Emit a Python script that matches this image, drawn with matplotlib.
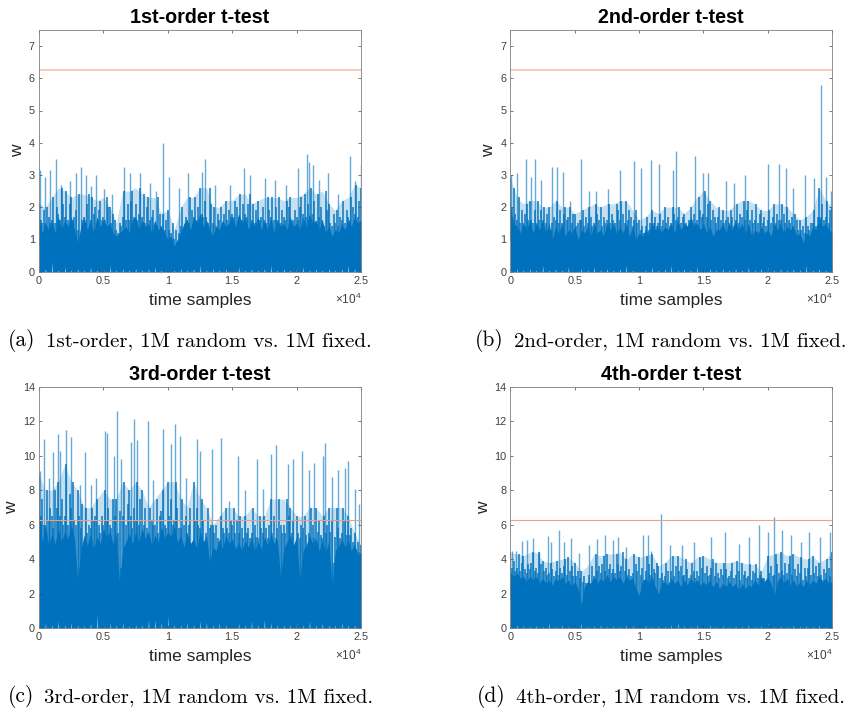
#!/usr/bin/env python3
"""
Four t-test traces, 1M random vs. 1M fixed
"""
import matplotlib
matplotlib.use('Agg')
import matplotlib.pyplot as plt
import numpy as np

threshold = 6.25
titles = ['1st-order t-test', '2nd-order t-test', '3rd-order t-test', '4th-order t-test']
letters = ['(a)', '(b)', '(c)', '(d)']
captions = ['1st-order, 1M random vs. 1M fixed.', '2nd-order, 1M random vs. 1M fixed.',
            '3rd-order, 1M random vs. 1M fixed.', '4th-order, 1M random vs. 1M fixed.']
x_tick_labels = ['0', '0.5', '1', '1.5', '2', '2.5']
y_tops = [7.5, 7.5, 14, 14]
y_ticks = [range(8), range(8), range(0, 15, 2), range(0, 15, 2)]

# tall spikes, position in units of 1e4 samples
spike_x_a = [.005, .05, .083, .13, .168, .238, .285, .324, .363, .407, .446, .503, .57, .66, .705, .788, .865, .907, .964, 1.01, 1.085, 1.158, 1.262, 1.285, 1.365, 1.482, 1.593, 1.637, 1.754, 1.834, 1.917, 2.013, 2.083, 2.098, 2.13, 2.174, 2.246, 2.324, 2.415, 2.456, 2.497]
spike_w_a = [3.15, 2.95, 3.15, 3.5, 2.7, 2.8, 3.05, 3.25, 3.0, 2.65, 3.0, 2.55, 2.4, 3.25, 3.05, 3.05, 2.75, 2.5, 4.0, 2.95, 2.6, 3.05, 3.1, 3.5, 2.7, 2.7, 3.2, 3.0, 2.9, 2.85, 2.7, 3.2, 3.65, 3.4, 3.3, 2.85, 3.05, 2.4, 3.6, 2.8, 3.3]
spike_x_b = [.005, .054, .122, .163, .192, .241, .321, .358, .412, .459, .549, .614, .663, .757, .855, .964, 1.016, 1.096, 1.158, 1.262, 1.287, 1.438, 1.495, 1.534, 1.676, 1.741, 1.826, 2.005, 2.09, 2.145, 2.194, 2.288, 2.363, 2.417, 2.453, 2.495]
spike_w_b = [3.0, 3.05, 3.5, 2.95, 3.5, 2.85, 3.25, 3.25, 3.1, 2.2, 3.5, 2.5, 2.5, 2.55, 3.15, 3.42, 3.2, 3.45, 3.35, 3.15, 3.75, 3.6, 3.05, 3.05, 2.8, 2.75, 3.0, 3.35, 3.35, 3.2, 2.6, 3.0, 2.9, 5.8, 2.95, 2.5]
spike_x_c = [.005, .039, .075, .109, .145, .163, .212, .249, .316, .358, .407, .446, .51, .531, .583, .604, .635, .712, .738, .762, .85, .886, .959, 1.028, 1.057, 1.093, 1.14, 1.225, 1.251, 1.342, 1.415, 1.472, 1.544, 1.598, 1.694, 1.736, 1.803, 1.837, 1.933, 1.974, 2.044, 2.093, 2.135, 2.202, 2.223, 2.272, 2.324, 2.373, 2.399, 2.453, 2.487]
spike_w_c = [9.1, 11.0, 8.7, 10.2, 11.25, 10.3, 11.5, 11.1, 8.3, 10.25, 8.3, 8.7, 11.45, 11.3, 10.0, 12.6, 9.8, 10.8, 12.15, 10.9, 12.05, 8.6, 11.55, 10.7, 11.85, 11.15, 8.7, 11.0, 10.3, 10.4, 11.05, 7.4, 10.0, 8.0, 9.8, 8.1, 10.1, 10.65, 9.5, 9.8, 10.3, 9.2, 9.6, 10.0, 10.75, 8.8, 9.2, 9.3, 9.7, 8.1, 7.2]
spike_x_d = [.008, .044, .09, .13, .174, .225, .29, .316, .381, .417, .472, .536, .614, .671, .738, .795, .839, .899, 1.029, 1.067, 1.093, 1.174, 1.244, 1.334, 1.425, 1.562, 1.668, 1.775, 1.852, 1.935, 2.003, 2.052, 2.114, 2.181, 2.259, 2.324, 2.41, 2.484]
spike_w_d = [4.5, 4.5, 5.05, 5.1, 5.2, 4.4, 5.35, 5.0, 5.7, 5.0, 5.2, 4.35, 4.8, 5.15, 5.4, 5.1, 5.3, 4.7, 5.4, 5.4, 4.5, 6.6, 4.8, 4.85, 5.0, 5.3, 5.55, 4.9, 5.3, 6.0, 5.6, 6.45, 5.7, 5.4, 5.0, 5.55, 5.3, 5.6]

# upper edge of the trace, one value per 500 samples
upper_a = [2.1, 2.0, 2.3, 2.6, 2.5, 2.3, 2.4, 2.4, 2.3, 2.2, 2.3, 2.0, 1.5, 2.5, 2.5, 2.6, 2.4, 2.3, 2.3, 1.8, 1.9, 1.3, 2.0, 2.3, 2.3, 2.6, 2.6, 2.0, 2.0, 2.2, 2.2, 2.4, 2.4, 2.1, 2.2, 2.3, 2.3, 2.3, 2.2, 2.3, 2.3, 2.4, 2.6, 2.4, 2.5, 2.1, 1.9, 2.2, 2.3, 2.7, 2.6]
upper_b = [2.9, 2.3, 2.1, 2.2, 2.2, 2.0, 2.0, 2.2, 2.0, 2.0, 1.8, 1.9, 2.0, 2.1, 2.0, 2.1, 2.1, 2.2, 2.2, 1.9, 1.6, 1.7, 1.9, 1.8, 2.0, 2.0, 2.0, 1.8, 2.0, 2.3, 2.5, 2.2, 2.0, 1.9, 1.9, 2.1, 2.2, 2.2, 2.1, 1.9, 1.9, 2.1, 2.1, 2.0, 1.8, 1.6, 1.7, 1.9, 2.6, 2.2, 2.0]
upper_c = [8.9, 8.0, 8.0, 8.5, 9.5, 8.5, 8.0, 7.0, 7.0, 7.5, 8.0, 7.5, 7.5, 8.5, 8.0, 8.5, 8.0, 7.0, 7.5, 8.0, 8.5, 8.5, 7.5, 7.0, 8.5, 7.5, 7.0, 6.0, 6.5, 7.0, 7.0, 6.5, 6.5, 7.0, 6.5, 6.5, 7.5, 7.5, 7.5, 7.0, 6.5, 6.5, 7.0, 7.0, 6.5, 7.0, 7.0, 7.0, 6.5, 5.5, 4.8]
upper_d = [4.4, 4.3, 4.2, 4.4, 4.4, 3.9, 3.8, 3.9, 4.0, 4.1, 3.8, 3.3, 3.6, 4.3, 4.2, 4.3, 4.3, 4.4, 4.0, 4.3, 4.1, 4.2, 4.3, 3.6, 3.8, 4.2, 4.2, 4.0, 3.8, 4.1, 4.2, 4.0, 3.8, 3.8, 3.8, 3.9, 3.8, 3.7, 3.7, 3.3, 4.2, 4.3, 4.4, 4.2, 4.3, 4.1, 4.0, 4.2, 3.8, 4.0, 4.4]

# busy middle of the trace, one value per 125 samples
mid_a = [2.1, 1.6, 1.5, 1.9, 1.5, 2.0, 1.7, 1.5, 1.6, 2.3, 1.5, 2.0, 1.8, 1.6, 2.6, 2.1, 1.7, 2.5, 1.6, 2.1, 2.3, 1.6, 1.7, 1.9, 1.3, 2.4, 1.1, 1.6, 1.7, 1.5, 2.1, 2.4, 1.6, 2.3, 1.8, 2.0, 1.5, 1.9, 2.2, 1.6,
         1.7, 1.6, 2.3, 2.0, 2.0, 1.5, 1.8, 1.6, 1.3, 1.2, 1.5, 1.4, 1.7, 2.5, 1.6, 2.1, 1.6, 2.2, 2.5, 1.7, 2.1, 1.6, 1.8, 2.6, 1.7, 2.4, 1.5, 2.0, 2.3, 1.6, 1.7, 1.9, 1.5, 1.4, 2.3, 1.8, 1.4, 1.8, 1.3, 1.6,
         1.9, 1.3, 1.2, 1.5, 1.0, 1.3, 0.9, 1.2, 1.4, 2.0, 1.3, 1.7, 1.6, 1.5, 2.3, 1.9, 1.7, 2.3, 1.6, 2.0, 2.6, 1.8, 1.7, 2.2, 1.7, 1.5, 2.6, 2.1, 1.5, 2.0, 1.4, 1.8, 1.6, 2.0, 1.5, 1.8, 2.2, 1.6, 1.9, 1.7,
         1.8, 1.7, 2.2, 2.0, 1.7, 2.4, 1.6, 2.1, 1.8, 1.7, 2.1, 2.4, 1.6, 2.1, 1.5, 1.9, 2.2, 1.6, 1.7, 2.0, 1.6, 1.5, 2.3, 1.9, 1.7, 2.3, 1.6, 2.0, 1.6, 2.3, 1.5, 1.9, 1.7, 1.6, 2.2, 2.0, 2.3, 1.5, 1.6, 1.9,
         1.7, 1.6, 2.0, 2.3, 1.8, 2.4, 1.7, 2.1, 1.6, 2.6, 1.8, 2.2, 1.5, 2.4, 1.7, 2.0, 1.6, 1.4, 2.5, 1.9, 2.1, 1.5, 1.4, 1.8, 1.5, 1.9, 1.4, 1.7, 1.6, 2.2, 1.5, 1.9, 1.7, 1.6, 2.3, 2.0, 1.8, 2.7, 1.7, 2.2, 2.6]
mid_b = [2.9, 2.0, 2.6, 1.8, 1.6, 2.3, 1.5, 1.9, 1.5, 1.8, 2.1, 1.6, 2.2, 1.6, 1.5, 1.9, 1.5, 2.2, 1.6, 1.9, 1.6, 2.0, 1.5, 1.8, 2.0, 1.3, 1.5, 1.7, 1.6, 2.2, 1.5, 1.9, 1.5, 1.8, 2.0, 1.6, 1.7, 2.0, 1.5, 1.8,
         1.8, 1.4, 1.5, 1.6, 1.6, 1.9, 1.4, 1.7, 1.5, 2.0, 1.7, 1.4, 1.5, 2.1, 1.8, 1.6, 2.0, 1.4, 1.7, 1.5, 1.6, 2.1, 1.5, 1.8, 1.6, 1.5, 2.1, 1.9, 1.6, 2.2, 1.8, 1.5, 2.2, 1.6, 1.9, 1.7, 1.4, 1.6, 1.9, 1.5,
         1.6, 1.3, 1.4, 1.2, 1.4, 1.7, 1.3, 1.5, 1.9, 1.5, 1.7, 1.4, 1.5, 1.8, 1.4, 1.6, 2.0, 1.5, 1.7, 1.4, 1.5, 2.0, 1.8, 1.6, 1.7, 2.0, 1.5, 1.7, 1.8, 1.5, 1.4, 1.6, 2.0, 1.6, 1.8, 1.5, 1.6, 2.3, 1.9, 1.7,
         1.8, 2.5, 1.7, 2.1, 2.2, 1.6, 1.9, 1.7, 1.5, 1.7, 2.0, 1.6, 1.9, 1.5, 1.6, 1.7, 1.5, 1.9, 1.7, 1.4, 1.6, 2.1, 1.5, 1.8, 1.7, 2.2, 1.6, 1.9, 2.2, 1.6, 1.9, 1.5, 1.6, 2.1, 1.5, 1.8, 1.9, 1.5, 1.7, 1.4,
         1.6, 1.9, 1.5, 1.7, 2.1, 1.5, 1.8, 1.6, 1.6, 2.1, 1.8, 1.5, 2.0, 1.6, 1.5, 1.7, 1.4, 1.8, 1.6, 1.3, 1.6, 1.3, 1.4, 1.2, 1.7, 1.4, 1.3, 1.5, 1.5, 1.9, 1.4, 1.7, 2.6, 1.7, 2.1, 1.6, 1.7, 2.2, 1.5, 1.9, 2.0]
mid_c = [8.9, 6.5, 7.5, 6.0, 6.0, 8.0, 6.2, 7.0, 6.5, 5.8, 8.0, 7.0, 8.5, 6.5, 7.5, 6.0, 6.5, 9.5, 6.0, 7.8, 7.0, 8.5, 6.2, 6.0, 8.0, 6.5, 5.8, 7.2, 4.5, 7.0, 5.5, 6.0, 5.8, 7.0, 6.2, 6.5, 7.5, 6.0, 5.5, 6.5,
         6.0, 8.0, 6.3, 7.0, 6.0, 5.8, 7.5, 6.5, 7.5, 5.5, 6.8, 3.5, 6.5, 8.5, 6.0, 7.2, 8.0, 6.5, 5.8, 7.0, 6.2, 8.5, 6.0, 7.5, 8.0, 6.0, 7.0, 5.8, 5.5, 7.0, 6.2, 6.0, 6.0, 7.5, 5.5, 6.5, 6.8, 8.0, 6.0, 5.8,
         8.5, 6.5, 7.5, 6.0, 6.2, 8.5, 7.0, 5.8, 5.8, 7.5, 6.0, 6.5, 5.5, 6.0, 7.0, 4.8, 8.5, 6.2, 7.0, 6.0, 5.8, 7.5, 6.2, 5.0, 5.5, 7.0, 5.8, 6.0, 6.0, 5.5, 6.0, 5.2, 5.0, 6.5, 5.8, 5.5, 7.0, 5.8, 5.5, 6.2,
         6.0, 7.0, 5.5, 6.2, 5.5, 6.5, 5.8, 5.2, 6.5, 5.5, 5.8, 5.2, 5.5, 7.0, 6.0, 5.3, 5.2, 6.5, 5.8, 5.5, 6.5, 5.8, 5.2, 6.0, 7.5, 5.5, 6.5, 5.2, 5.8, 7.5, 6.0, 5.5, 6.0, 5.5, 7.5, 6.5, 7.0, 5.5, 6.2, 4.0,
         6.5, 5.5, 5.2, 6.0, 5.8, 6.5, 5.4, 3.8, 5.5, 7.0, 6.0, 5.2, 7.0, 5.6, 6.2, 5.4, 5.2, 6.5, 5.5, 6.0, 7.0, 5.6, 6.2, 3.8, 5.3, 7.0, 5.8, 5.2, 5.5, 7.0, 6.2, 5.4, 6.5, 5.4, 5.8, 5.0, 5.5, 4.6, 5.0, 4.4, 4.8]
mid_d = [4.4, 3.5, 3.9, 3.3, 3.5, 4.3, 3.3, 3.8, 4.2, 3.4, 3.2, 3.7, 3.4, 3.8, 4.4, 3.3, 3.5, 3.2, 4.4, 3.7, 3.9, 3.3, 3.5, 3.1, 3.2, 3.8, 3.4, 3.0, 3.3, 3.9, 3.1, 3.5, 3.2, 3.6, 4.0, 3.1, 4.1, 3.3, 3.6, 3.0,
         3.8, 3.0, 3.3, 2.9, 3.3, 2.7, 3.0, 2.6, 2.6, 3.1, 2.0, 3.6, 3.0, 4.3, 3.3, 3.6, 3.2, 3.7, 4.2, 3.3, 4.3, 3.4, 3.7, 3.2, 3.4, 3.2, 4.3, 3.7, 3.3, 3.6, 4.4, 3.3, 4.0, 3.1, 3.4, 3.0, 3.2, 4.3, 3.7, 3.3,
         4.1, 3.1, 3.5, 2.8, 3.3, 4.2, 3.7, 3.1, 4.3, 3.4, 3.2, 3.8, 3.6, 2.9, 3.2, 2.8, 3.0, 3.8, 3.3, 2.7, 3.3, 4.2, 3.0, 3.6, 4.2, 3.3, 3.6, 3.0, 3.1, 4.0, 3.4, 2.9, 3.1, 3.8, 3.3, 2.9, 3.3, 3.0, 4.1, 3.5,
         4.2, 3.2, 3.6, 3.0, 3.1, 3.5, 4.0, 3.0, 3.8, 3.2, 2.9, 3.4, 3.1, 3.8, 3.4, 2.9, 3.0, 3.3, 3.8, 2.9, 3.1, 3.9, 3.3, 2.8, 3.8, 3.1, 3.3, 2.9, 3.0, 3.7, 2.8, 3.3, 3.2, 3.7, 2.9, 3.1, 3.3, 2.7, 2.9, 2.6,
         4.2, 3.2, 3.6, 3.0, 3.1, 4.3, 3.7, 3.2, 4.4, 3.3, 3.1, 3.8, 3.2, 3.7, 4.2, 3.1, 4.3, 3.4, 3.0, 3.7, 3.2, 4.1, 2.8, 3.5, 3.0, 3.5, 4.0, 3.1, 4.2, 3.2, 3.6, 3.0, 3.8, 3.1, 2.8, 3.4, 3.2, 4.0, 3.5, 3.0, 4.4]

# solid part of the trace, one value per 250 samples
core_a = [1.6, 1.2, 1.5, 1.3, 1.6, 1.2, 1.7, 1.3, 1.6, 1.4,
          1.7, 1.3, 0.9, 1.4, 1.7, 1.3, 1.6, 1.2, 1.7, 1.4,
          1.6, 1.4, 1.5, 1.2, 1.1, 1.2, 1.3, 1.4, 1.2, 1.6,
          1.7, 1.3, 1.6, 1.4, 1.5, 1.2, 1.6, 1.3, 1.4, 1.2,
          1.0, 1.1, 0.8, 1.0, 1.2, 1.5, 1.6, 1.3, 1.7, 1.5,
          1.8, 1.4, 1.6, 1.3, 1.1, 1.4, 1.3, 1.6, 1.4, 1.5,
          1.7, 1.4, 1.8, 1.5, 1.7, 1.3, 1.6, 1.4, 1.7, 1.3,
          1.6, 1.3, 1.7, 1.2, 1.6, 1.4, 1.5, 1.3, 1.7, 1.4,
          1.5, 1.3, 1.7, 1.4, 1.8, 1.5, 1.6, 1.3, 1.6, 1.2,
          1.4, 1.1, 1.3, 1.2, 1.5, 1.3, 1.6, 1.4, 1.7, 1.5, 1.6]
core_b = [1.9, 1.5, 1.4, 1.2, 1.5, 1.3, 1.6, 1.2, 1.5, 1.3,
          1.6, 1.2, 1.5, 1.0, 1.4, 1.2, 1.5, 1.1, 1.3, 1.2,
          1.4, 1.0, 1.3, 1.2, 1.4, 1.1, 1.5, 1.2, 1.3, 1.1,
          1.5, 1.3, 1.5, 1.2, 1.4, 1.2, 1.5, 1.1, 1.4, 1.0,
          1.2, 1.1, 1.3, 1.2, 1.5, 1.3, 1.4, 1.2, 1.4, 1.3,
          1.5, 1.2, 1.6, 1.3, 1.5, 1.4, 1.7, 1.4, 1.5, 1.3,
          1.5, 1.2, 1.4, 1.1, 1.3, 1.3, 1.5, 1.2, 1.5, 1.3,
          1.6, 1.3, 1.5, 1.2, 1.5, 1.1, 1.3, 1.2, 1.4, 1.2,
          1.3, 1.1, 1.5, 1.3, 1.5, 1.2, 1.4, 1.3, 1.4, 1.1,
          1.2, 0.9, 1.2, 1.1, 1.4, 1.3, 1.7, 1.4, 1.5, 1.3, 1.2]
core_c = [7.0, 5.0, 6.0, 4.8, 5.5, 4.9, 5.8, 5.0, 5.6, 5.2,
          6.0, 5.2, 2.8, 4.5, 5.4, 4.8, 5.5, 4.6, 5.3, 4.9,
          5.8, 5.3, 5.6, 4.9, 5.5, 2.6, 4.6, 5.0, 5.5, 4.9,
          5.6, 5.0, 5.8, 5.2, 5.6, 4.8, 5.4, 5.0, 5.9, 5.2,
          5.6, 5.3, 5.9, 5.0, 5.4, 4.7, 5.5, 4.9, 5.2, 4.6,
          5.6, 5.0, 5.4, 3.8, 4.7, 4.5, 5.2, 4.6, 5.4, 4.9,
          5.2, 4.6, 5.0, 4.5, 5.1, 4.7, 5.3, 4.5, 5.0, 4.6,
          5.3, 4.8, 5.5, 4.9, 5.2, 3.0, 4.6, 5.0, 5.4, 4.8,
          5.3, 2.8, 4.5, 4.8, 5.4, 4.9, 5.2, 4.5, 5.1, 4.4,
          5.0, 2.5, 4.5, 4.7, 5.2, 4.7, 5.1, 4.5, 4.9, 4.2, 4.4]
core_d = [3.2, 3.0, 3.2, 2.9, 3.0, 2.7, 3.0, 2.8, 3.0, 2.6,
          2.9, 2.6, 2.8, 2.5, 2.9, 2.7, 3.0, 2.6, 2.8, 2.4,
          2.7, 2.3, 1.4, 2.4, 2.7, 2.6, 3.0, 2.6, 2.9, 2.7,
          3.1, 2.7, 3.0, 2.8, 3.0, 2.6, 3.0, 2.8, 2.9, 2.3,
          1.9, 2.7, 2.9, 2.6, 3.0, 2.4, 2.0, 2.6, 2.7, 2.5,
          2.9, 2.6, 2.8, 2.4, 2.8, 2.5, 2.9, 2.6, 2.8, 2.5,
          2.7, 2.5, 2.8, 2.4, 2.7, 2.3, 2.6, 2.4, 2.7, 2.4,
          2.6, 2.2, 2.6, 2.3, 2.5, 2.4, 2.8, 2.5, 3.0, 2.7,
          3.0, 2.6, 1.9, 2.7, 3.0, 2.6, 2.9, 2.5, 2.8, 2.4,
          2.7, 2.4, 2.8, 2.5, 2.8, 2.6, 3.0, 2.7, 2.9, 2.6, 2.7]

# lower edge of the trace, one value per 500 samples
floor_a = [.05, .1, .3, .05, .15, .05, .1, .05, .15, .05, .1, .2, .05, .1, .05, .1, .05, .1, .15, .05, .1, .05, .1, .05, .1, .2, .05, .1, .05, .1, .05, .15, .05, .1, .05, .1, .2, .05, .1, .05, .1, .15, .05, .1, .05, .1, .05, .1, .2, .1, .05]
floor_b = [.03, .1, .05, .1, .05, .2, .05, .1, .05, .15, .05, .1, .05, .15, .05, .1, .05, .1, .2, .05, .1, .05, .15, .05, .1, .2, .05, .1, .05, .15, .05, .1, .05, .1, .05, .1, .05, .15, .05, .1, .15, .05, .1, .05, .1, .05, .2, .05, .1, .05, .1]
floor_c = [.1, .3, .2, .4, .2, .3, .2, .15, .3, .8, .2, .3, .2, .3, .15, .2, .2, .5, .5, .3, .7, .2, .2, .3, .2, .4, .3, .2, .3, .2, .2, .3, .2, .4, .2, .5, .3, .2, .2, .2, .3, .2, .4, .2, .3, .2, .2, .3, .2, .2, .3]
floor_d = [.1, .2, .15, .1, .15, .1, .3, .1, .2, .1, .15, .3, .1, .15, .2, .1, .15, .1, .2, .15, .1, .2, .1, .15, .1, .2, .3, .15, .1, .2, .1, .2, .1, .15, .1, .15, .1, .2, .1, .15, .3, .1, .15, .1, .2, .1, .15, .1, .2, .1, .2]

spikes_x = [spike_x_a, spike_x_b, spike_x_c, spike_x_d]
spikes_w = [spike_w_a, spike_w_b, spike_w_c, spike_w_d]
uppers = [upper_a, upper_b, upper_c, upper_d]
mids = [mid_a, mid_b, mid_c, mid_d]
cores = [core_a, core_b, core_c, core_d]
floors = [floor_a, floor_b, floor_c, floor_d]

W, H = 852, 708
# left, top, right, bottom of each axes in pixels
boxes = [(39, 30, 361, 271.5), (510.5, 30, 832, 271.5), (39, 387, 361, 628), (510.5, 387, 832, 628)]
ylabel_x = [-0.068, -0.067, -0.084, -0.085]
caption_pos = [(8, 341), (475, 341), (8, 697), (477, 697)]
caption_text_x = [46, 514, 44, 516]
blue = '#0072BD'
line_w = [1.3, 1.3, 0.8, 0.8]
line_c = ['#F6C6B2', '#F6C6B2', '#E9A07F', '#EFA582']

plt.rcParams['font.family'] = ['Liberation Sans', 'DejaVu Sans']
plt.rcParams['mathtext.default'] = 'regular'
fig = plt.figure(figsize=(W / 100, H / 100), dpi=100)

for i in range(4):
    l, t, r, b = boxes[i]
    ax = fig.add_axes([l / W, 1 - b / H, (r - l) / W, (b - t) / H])

    x_core = np.linspace(0, 25000, len(cores[i]))
    x_mid = np.linspace(0, 25000, len(mids[i]))
    x_upper = np.linspace(0, 25000, len(uppers[i]))

    # solid body, with the small gaps at the bottom where the trace touches zero
    x_body = np.linspace(0, 25000, 1001)
    body_low = np.zeros(len(x_body))
    body_low[::20] = floors[i]
    ax.fill_between(x_body, body_low, np.interp(x_body, x_core, cores[i]), color=blue, lw=0)

    # comb of thin lines, lighter further up
    ax.fill_between(x_upper, np.interp(x_upper, x_core, cores[i]) * 0.5, uppers[i], color=blue, lw=0, alpha=0.22)
    ax.vlines(x_mid, np.interp(x_mid, x_core, cores[i]) * 0.5, mids[i], color=blue, lw=1.3, alpha=0.8)
    spike_pos = np.array(spikes_x[i]) * 1e4
    ax.vlines(spike_pos, np.interp(spike_pos, x_core, cores[i]) * 0.5, spikes_w[i], color=blue, lw=1.0, alpha=0.6)
    ax.axhline(threshold, color=line_c[i], lw=line_w[i])

    ax.set_xlim(0, 25000)
    ax.set_ylim(0, y_tops[i])
    ax.set_xticks(np.arange(0, 25001, 5000))
    ax.set_xticklabels(x_tick_labels)
    ax.set_yticks(list(y_ticks[i]))
    ax.tick_params(direction='in', top=True, right=True, length=2.5, width=0.5, color='#404040',
                   labelcolor='#404040', labelsize=7.8, pad=3)
    for s in ax.spines.values():
        s.set_linewidth(0.6)
        s.set_color('#808080')

    ax.set_title(titles[i], fontsize=14.2, fontweight='bold', pad=5)
    ax.set_xlabel('time samples', fontsize=12.5, color='#262626', labelpad=5)
    ax.set_ylabel('w', fontsize=12.5, color='#262626', va='center')
    ax.yaxis.set_label_coords(ylabel_x[i], 0.5)
    ax.text(1, -0.115, r'$\times 10^4$', transform=ax.transAxes, ha='right', va='center',
            fontsize=8.5, color='#404040')

    lx, ty = caption_pos[i]
    fig.text(lx / W, 1 - ty / H, letters[i], family='cmr10', fontsize=15.5, va='center')
    fig.text(caption_text_x[i] / W, 1 - ty / H, captions[i], family='cmr10', fontsize=15, va='center')

plt.savefig('out.png', dpi=100)
